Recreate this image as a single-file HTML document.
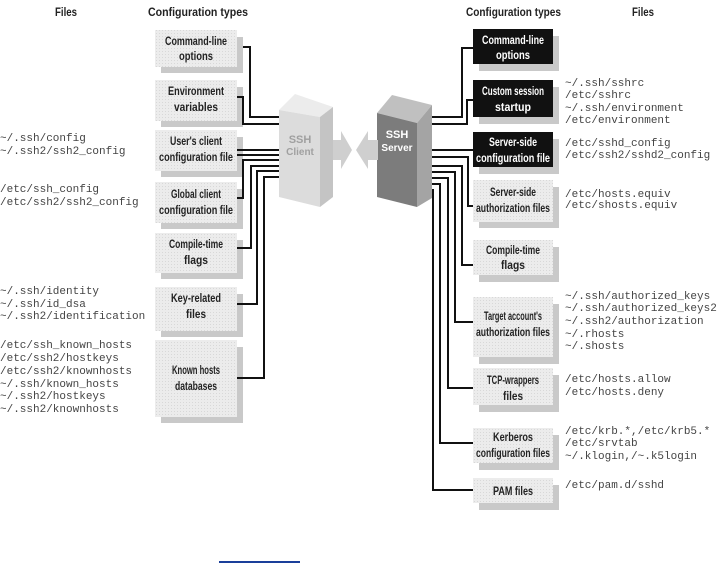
<!DOCTYPE html>
<html><head><meta charset="utf-8"><style>
html,body{margin:0;padding:0;background:#fff;width:724px;height:563px;overflow:hidden}
svg{display:block}
.f{font-family:"Liberation Mono",monospace;font-size:11px;fill:#444}
.h{font-family:"Liberation Sans",sans-serif;font-weight:bold;font-size:12px;fill:#222}
.b{font-family:"Liberation Sans",sans-serif;font-weight:bold;font-size:12px;fill:#222;text-anchor:middle}
.w{fill:#fff}
.ln{fill:none;stroke:#111;stroke-width:2}
</style></head><body>
<svg width="724" height="563" viewBox="0 0 724 563" xmlns="http://www.w3.org/2000/svg">
<defs>
<pattern id="dot" width="3" height="3" patternUnits="userSpaceOnUse"><rect width="3" height="3" fill="#ececec"/><rect width="1" height="1" fill="#d8d8d8"/></pattern>
</defs>
<text class="h" x="55" y="16" textLength="22" lengthAdjust="spacingAndGlyphs">Files</text>
<text class="h" x="148" y="16" textLength="100" lengthAdjust="spacingAndGlyphs">Configuration types</text>
<text class="h" x="466" y="16" textLength="95" lengthAdjust="spacingAndGlyphs">Configuration types</text>
<text class="h" x="632" y="16" textLength="22" lengthAdjust="spacingAndGlyphs">Files</text>

<g>
<rect x="161" y="37" width="82" height="36" fill="#c9c9c9"/><rect x="155" y="30" width="82" height="37" fill="url(#dot)"/>
<text class="b" x="196" y="45" textLength="62" lengthAdjust="spacingAndGlyphs">Command-line</text><text class="b" x="196" y="60" textLength="34" lengthAdjust="spacingAndGlyphs">options</text>
<rect x="161" y="87" width="82" height="40" fill="#c9c9c9"/><rect x="155" y="80" width="82" height="41" fill="url(#dot)"/>
<text class="b" x="196" y="95" textLength="56" lengthAdjust="spacingAndGlyphs">Environment</text><text class="b" x="196" y="111" textLength="44" lengthAdjust="spacingAndGlyphs">variables</text>
<rect x="161" y="137" width="82" height="40" fill="#c9c9c9"/><rect x="155" y="130" width="82" height="41" fill="url(#dot)"/>
<text class="b" x="196" y="145" textLength="52" lengthAdjust="spacingAndGlyphs">User's client</text><text class="b" x="196" y="161" textLength="74" lengthAdjust="spacingAndGlyphs">configuration file</text>
<rect x="161" y="189" width="82" height="40" fill="#c9c9c9"/><rect x="155" y="182" width="82" height="41" fill="url(#dot)"/>
<text class="b" x="196" y="198" textLength="50" lengthAdjust="spacingAndGlyphs">Global client</text><text class="b" x="196" y="214" textLength="74" lengthAdjust="spacingAndGlyphs">configuration file</text>
<rect x="161" y="240" width="82" height="39" fill="#c9c9c9"/><rect x="155" y="233" width="82" height="40" fill="url(#dot)"/>
<text class="b" x="196" y="248" textLength="54" lengthAdjust="spacingAndGlyphs">Compile-time</text><text class="b" x="196" y="264" textLength="24" lengthAdjust="spacingAndGlyphs">flags</text>
<rect x="161" y="294" width="82" height="43" fill="#c9c9c9"/><rect x="155" y="287" width="82" height="44" fill="url(#dot)"/>
<text class="b" x="196" y="302" textLength="50" lengthAdjust="spacingAndGlyphs">Key-related</text><text class="b" x="196" y="318" textLength="20" lengthAdjust="spacingAndGlyphs">files</text>
<rect x="161" y="347" width="82" height="76" fill="#c9c9c9"/><rect x="155" y="340" width="82" height="77" fill="url(#dot)"/>
<text class="b" x="196" y="374" textLength="48" lengthAdjust="spacingAndGlyphs">Known hosts</text><text class="b" x="196" y="390" textLength="42" lengthAdjust="spacingAndGlyphs">databases</text>
</g>

<g>
<rect x="479" y="36" width="80" height="35" fill="#c9c9c9"/><rect x="473" y="29" width="80" height="35" fill="#111"/>
<text class="b w" x="513" y="44" textLength="62" lengthAdjust="spacingAndGlyphs">Command-line</text><text class="b w" x="513" y="59" textLength="34" lengthAdjust="spacingAndGlyphs">options</text>
<rect x="479" y="87" width="80" height="37" fill="#c9c9c9"/><rect x="473" y="80" width="80" height="37" fill="#111"/>
<text class="b w" x="513" y="95" textLength="62" lengthAdjust="spacingAndGlyphs">Custom session</text><text class="b w" x="513" y="111" textLength="36" lengthAdjust="spacingAndGlyphs">startup</text>
<rect x="479" y="139" width="80" height="35" fill="#c9c9c9"/><rect x="473" y="132" width="80" height="35" fill="#111"/>
<text class="b w" x="513" y="146" textLength="48" lengthAdjust="spacingAndGlyphs">Server-side</text><text class="b w" x="513" y="162" textLength="74" lengthAdjust="spacingAndGlyphs">configuration file</text>
<rect x="479" y="187" width="80" height="41" fill="#c9c9c9"/><rect x="473" y="180" width="80" height="42" fill="url(#dot)"/>
<text class="b" x="513" y="196" textLength="46" lengthAdjust="spacingAndGlyphs">Server-side</text><text class="b" x="513" y="212" textLength="74" lengthAdjust="spacingAndGlyphs">authorization files</text>
<rect x="479" y="247" width="80" height="35" fill="#c9c9c9"/><rect x="473" y="240" width="80" height="35" fill="url(#dot)"/>
<text class="b" x="513" y="254" textLength="54" lengthAdjust="spacingAndGlyphs">Compile-time</text><text class="b" x="513" y="269" textLength="24" lengthAdjust="spacingAndGlyphs">flags</text>
<rect x="479" y="304" width="80" height="60" fill="#c9c9c9"/><rect x="473" y="297" width="80" height="60" fill="url(#dot)"/>
<text class="b" x="513" y="320" textLength="58" lengthAdjust="spacingAndGlyphs">Target account's</text><text class="b" x="513" y="336" textLength="74" lengthAdjust="spacingAndGlyphs">authorization files</text>
<rect x="479" y="375" width="80" height="37" fill="#c9c9c9"/><rect x="473" y="368" width="80" height="37" fill="url(#dot)"/>
<text class="b" x="513" y="384" textLength="52" lengthAdjust="spacingAndGlyphs">TCP-wrappers</text><text class="b" x="513" y="400" textLength="20" lengthAdjust="spacingAndGlyphs">files</text>
<rect x="479" y="435" width="80" height="35" fill="#c9c9c9"/><rect x="473" y="428" width="80" height="35" fill="url(#dot)"/>
<text class="b" x="513" y="441" textLength="40" lengthAdjust="spacingAndGlyphs">Kerberos</text><text class="b" x="513" y="457" textLength="74" lengthAdjust="spacingAndGlyphs">configuration files</text>
<rect x="479" y="485" width="80" height="25" fill="#c9c9c9"/><rect x="473" y="478" width="80" height="25" fill="url(#dot)"/>
<text class="b" x="513" y="495" textLength="40" lengthAdjust="spacingAndGlyphs">PAM files</text>
</g>

<polyline class="ln" points="243,47 250,47 250,117 280,117"/>
<polyline class="ln" points="237,97 243,97 243,124 280,124"/>
<polyline class="ln" points="237,150 280,150"/>
<polyline class="ln" points="237,155 280,155"/>
<polyline class="ln" points="237,198 243,198 243,160 280,160"/>
<polyline class="ln" points="237,248 251,248 251,166 280,166"/>
<polyline class="ln" points="237,304 257,304 257,171 280,171"/>
<polyline class="ln" points="237,378 264,378 264,177 280,177"/>

<polyline class="ln" points="473,48 462,48 462,117 430,117"/>
<polyline class="ln" points="473,100 467,100 467,124 430,124"/>
<polyline class="ln" points="473,150 430,150"/>
<polyline class="ln" points="430,157 468,157 468,206 473,206"/>
<polyline class="ln" points="430,166 462,166 462,265 473,265"/>
<polyline class="ln" points="430,172 455,172 455,322 473,322"/>
<polyline class="ln" points="430,178 448,178 448,388 473,388"/>
<polyline class="ln" points="430,184 440,184 440,443 473,443"/>
<polyline class="ln" points="430,190 433,190 433,490 473,490"/>

<polygon points="279,110 295,94 333,107 320,117" fill="#ececec"/>
<polygon points="279,110 320,117 320,207 279,197" fill="#dcdcdc"/>
<polygon points="320,117 333,107 333,197 320,207" fill="#c4c4c4"/>
<text x="300" y="143" font-family="Liberation Sans,sans-serif" font-weight="bold" font-size="11" fill="#a0a0a0" text-anchor="middle">SSH</text>
<text x="300" y="155" font-family="Liberation Sans,sans-serif" font-weight="bold" font-size="10" fill="#a0a0a0" text-anchor="middle">Client</text>
<polygon points="333,140 341,140 341,131 352,150 341,169 341,160 333,160" fill="#cfcfcf"/>
<polygon points="377,113 392,95 432,105 417,123" fill="#c0c0c0"/>
<polygon points="377,113 417,123 417,207 377,197" fill="#7c7c7c"/>
<polygon points="417,123 432,105 432,198 417,207" fill="#a4a4a4"/>
<polygon points="378,140 368,140 368,131 356,150 368,169 368,160 378,160" fill="#cfcfcf"/>
<text x="397" y="138" font-family="Liberation Sans,sans-serif" font-weight="bold" font-size="11" fill="#fff" text-anchor="middle">SSH</text>
<text x="397" y="151" font-family="Liberation Sans,sans-serif" font-weight="bold" font-size="10" fill="#fff" text-anchor="middle">Server</text>

<g class="f">
<text x="0" y="141">~/.ssh/config</text>
<text x="0" y="154">~/.ssh2/ssh2_config</text>
<text x="0" y="192">/etc/ssh_config</text>
<text x="0" y="205">/etc/ssh2/ssh2_config</text>
<text x="0" y="294">~/.ssh/identity</text>
<text x="0" y="307">~/.ssh/id_dsa</text>
<text x="0" y="319">~/.ssh2/identification</text>
<text x="0" y="348">/etc/ssh_known_hosts</text>
<text x="0" y="361">/etc/ssh2/hostkeys</text>
<text x="0" y="374">/etc/ssh2/knownhosts</text>
<text x="0" y="387">~/.ssh/known_hosts</text>
<text x="0" y="399">~/.ssh2/hostkeys</text>
<text x="0" y="412">~/.ssh2/knownhosts</text>
</g>
<g class="f">
<text x="565" y="86">~/.ssh/sshrc</text>
<text x="565" y="98">/etc/sshrc</text>
<text x="565" y="111">~/.ssh/environment</text>
<text x="565" y="123">/etc/environment</text>
<text x="565" y="146">/etc/sshd_config</text>
<text x="565" y="158">/etc/ssh2/sshd2_config</text>
<text x="565" y="197">/etc/hosts.equiv</text>
<text x="565" y="208">/etc/shosts.equiv</text>
<text x="565" y="299">~/.ssh/authorized_keys</text>
<text x="565" y="311">~/.ssh/authorized_keys2</text>
<text x="565" y="324">~/.ssh2/authorization</text>
<text x="565" y="337">~/.rhosts</text>
<text x="565" y="349">~/.shosts</text>
<text x="565" y="382">/etc/hosts.allow</text>
<text x="565" y="395">/etc/hosts.deny</text>
<text x="565" y="434">/etc/krb.*,/etc/krb5.*</text>
<text x="565" y="446">/etc/srvtab</text>
<text x="565" y="459">~/.klogin,/~.k5login</text>
<text x="565" y="488">/etc/pam.d/sshd</text>
</g>
<rect x="219" y="561" width="81" height="2" fill="#1a3f9a"/>
</svg>
</body></html>
